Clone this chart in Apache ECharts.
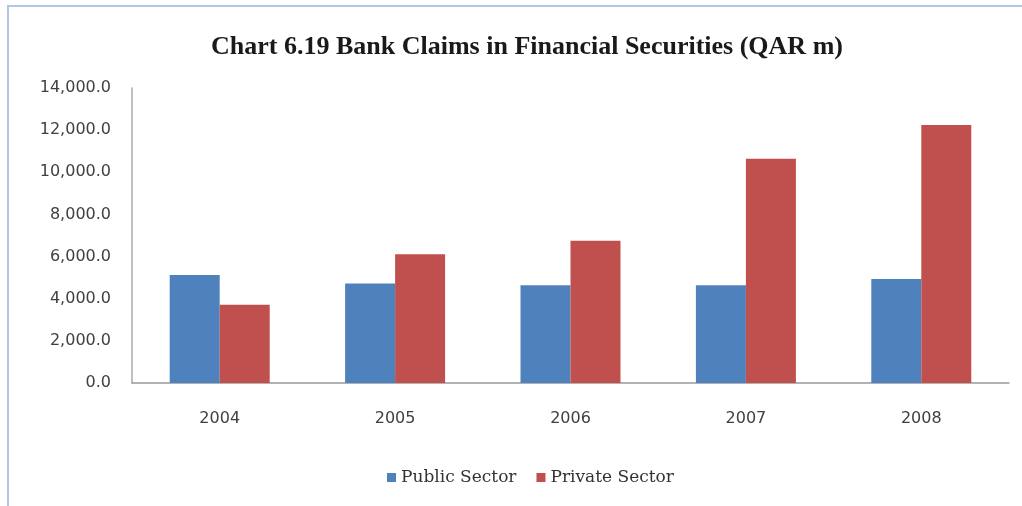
<!DOCTYPE html>
<html>
<head>
<meta charset="utf-8">
<script src="https://cdn.jsdelivr.net/npm/echarts@6/dist/echarts.min.js"></script>
<style>
  html, body { margin: 0; padding: 0; background: #fff; }
  #chart { width: 1022px; height: 506px; }
</style>
</head>
<body>
<div id="chart"></div>
<script>
// data (QAR m)
var years = ["2004", "2005", "2006", "2007", "2008"];
var publicSector = [5120, 4720, 4640, 4640, 4940];
var privateSector = [3710, 6110, 6750, 10640, 12240];
var yTicks = [0, 2000, 4000, 6000, 8000, 10000, 12000, 14000];

var chart = echarts.init(document.getElementById("chart"), null, { renderer: "canvas" });

var option = {
    animation: false,
    backgroundColor: "#fff",
    title: {
        text: "Chart 6.19 Bank Claims in Financial Securities (QAR m)",
        left: 206,
        top: 29,
        textStyle: {
            fontFamily: "Liberation Serif",
            fontWeight: "bold",
            fontSize: 26,
            color: "#1a1a1a"
        }
    },
    graphic: [{
        // light frame, only top and left edges are visible in the picture
        type: "rect",
        shape: { x: 8, y: 6, width: 1030, height: 520 },
        style: { fill: "none", stroke: "#b3c6ea", lineWidth: 2 },
        silent: true
    }],
    legend: {
        bottom: 15,
        left: 382,
        itemWidth: 9,
        itemHeight: 9,
        itemGap: 20,
        icon: "rect",
        textStyle: {
            fontFamily: "DejaVu Serif",
            fontSize: 17,
            color: "#333"
        },
        data: ["Public Sector", "Private Sector"]
    },
    grid: {
        left: 132,
        right: 13,
        top: 88,
        bottom: 123,
        containLabel: false
    },
    xAxis: {
        type: "category",
        data: years,
        axisLine: { lineStyle: { color: "#999", width: 1.5 } },
        axisTick: { show: false },
        axisLabel: {
            margin: 28,
            fontFamily: "DejaVu Sans",
            fontSize: 16,
            color: "#404040"
        }
    },
    yAxis: {
        type: "value",
        min: yTicks[0],
        max: yTicks[yTicks.length - 1],
        interval: 2000,
        axisLine: { show: true, lineStyle: { color: "#aaa", width: 1.5 } },
        axisTick: { show: false },
        splitLine: { show: false },
        axisLabel: {
            margin: 21,
            fontFamily: "DejaVu Sans",
            fontSize: 16,
            color: "#404040",
            formatter: function(v) {
                return v.toLocaleString("en-US", { minimumFractionDigits: 1, maximumFractionDigits: 1 });
            }
        }
    },
    series: [{
            name: "Public Sector",
            type: "bar",
            data: publicSector,
            barWidth: 50,
            barGap: "0%",
            itemStyle: { color: "#4f81bd" }
        },
        {
            name: "Private Sector",
            type: "bar",
            data: privateSector,
            barWidth: 50,
            barGap: "0%",
            itemStyle: { color: "#c0504d" }
        }
    ]
};

chart.setOption(option);
</script>
</body>
</html>
